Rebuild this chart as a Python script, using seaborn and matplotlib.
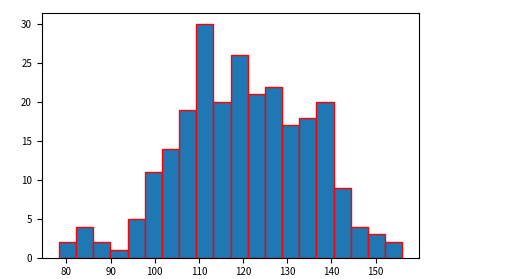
import matplotlib
matplotlib.use("Agg")
import matplotlib.pyplot as plt
import seaborn as sns
import numpy as np
import pandas as pd

# Bin centers (value) and counts
bin_start = 78.27
bin_width = 3.89
counts = [2, 4, 2, 1, 5, 11, 14, 19, 30, 20, 26, 21, 22, 17, 18, 20, 9, 4, 3, 2]
n_bins = len(counts)
centers = [bin_start + bin_width * (i + 0.5) for i in range(n_bins)]
xticks = [80, 90, 100, 110, 120, 130, 140, 150]
yticks = [0, 5, 10, 15, 20, 25, 30]

df = pd.DataFrame({"value": centers, "count": counts})

plt.rcParams['font.family'] = ['Noto Sans CJK SC', 'DejaVu Sans']
plt.rcParams['font.size'] = 7

fig = plt.figure(figsize=(5.31, 2.79), dpi=100)
ax = fig.add_axes([0.0785, 0.0763, 0.790 - 0.0785, 0.9545 - 0.0763])
sns.histplot(data=df, x="value", weights="count", bins=n_bins,
             binrange=(bin_start, bin_start + bin_width * n_bins),
             color="#1f77b4", edgecolor="red", linewidth=1, alpha=1, ax=ax)
ax.set_xlabel("")
ax.set_ylabel("")
ax.set_xticks(xticks)
ax.set_yticks(yticks)
ax.margins(x=0.05, y=0.05)
ax.set_ylim(0, 31.5)
ax.tick_params(labelsize=7, length=3.5, width=0.8)
for s in ax.spines.values():
    s.set_linewidth(0.8)
fig.savefig("out.png", dpi=100)
